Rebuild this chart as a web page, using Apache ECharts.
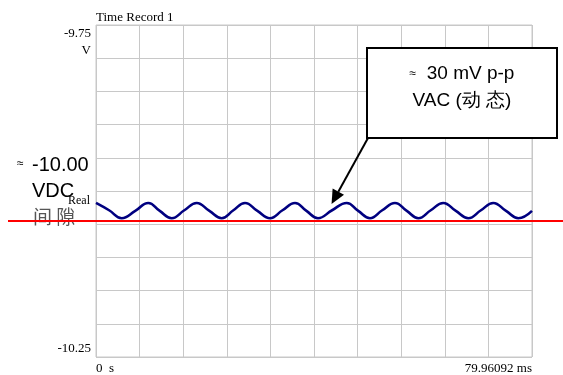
<!DOCTYPE html>
<html>
<head>
<meta charset="utf-8">
<script src="https://cdn.jsdelivr.net/npm/echarts@6/dist/echarts.min.js"></script>
<style>
html,body{margin:0;padding:0;background:#fff;}
#chart{width:563px;height:375px;}
</style>
</head>
<body>
<div id="chart"></div>
<script>
// ---- data ----
var TITLE = 'Time Record 1';
var X_MIN = 0, X_MAX = 79.96092;           // ms
var Y_MIN = -10.25, Y_MAX = -9.75;         // V
var Y_INTERVAL = 0.05;
var X_LABEL_MIN = '0  s', X_LABEL_MAX = '79.96092 ms';
var Y_LABEL_MAX = '-9.75\nV', Y_LABEL_MIN = '-10.25';
var Y_NAME = 'Real';

// time (ms) of sampled points of the trace
var times = [0, 2.4, 4.71, 7.2, 9.59, 11.7, 13.88, 16.2, 18.47, 20.8, 23.05, 25.2, 27.33, 29.6, 31.91,
             34.2, 36.5, 38.6, 40.71, 43.3, 45.98, 48.1, 50.25, 52.5, 54.83, 57.0, 59.11, 61.4, 63.69,
             66.0, 68.28, 70.6, 72.86, 75.2, 77.45, 79.96];
// voltage (V) at those times
var volts = [-10.018, -10.029, -10.041, -10.030, -10.018, -10.030, -10.041, -10.029, -10.018, -10.030, -10.041,
             -10.029, -10.018, -10.030, -10.041, -10.029, -10.018, -10.030, -10.041, -10.029, -10.018,
             -10.030, -10.041, -10.029, -10.018, -10.030, -10.041, -10.029, -10.018, -10.030, -10.041,
             -10.029, -10.018, -10.030, -10.041, -10.030];

// annotations
var DC_LEVEL = -10.045;                     // red reference line
var ARROW_TIP = [43.2, -10.0195];           // point the callout arrow targets
var NOTE_DC = ['≈', '-10.00', 'VDC', '间 隙'];
var NOTE_AC_APPROX = '≈';
var NOTE_AC = ['30 mV p-p', 'VAC (动 态)'];

var serif = '"Liberation Serif","DejaVu Serif",serif';
var sans = '"Liberation Sans",Arial,sans-serif';

var chart = echarts.init(document.getElementById('chart'));
var pts = times.map(function (t, i) { return [t, volts[i]]; });

function near(a, b) { return Math.abs(a - b) < 1e-6; }

chart.setOption({
  animation: false,
  backgroundColor: '#fff',
  grid: { left: 96, right: 31, top: 25, bottom: 16, show: true, borderColor: '#c8c8c8', borderWidth: 1 },
  xAxis: {
    type: 'value', min: X_MIN, max: X_MAX, interval: (X_MAX - X_MIN) / 10,
    axisLine: { show: false }, axisTick: { show: false },
    splitLine: { show: true, lineStyle: { color: '#c8c8c8', width: 1 } },
    axisLabel: {
      show: true, margin: 5, color: '#000', fontFamily: serif, fontSize: 13,
      alignMinLabel: 'left', alignMaxLabel: 'right',
      formatter: function (v) {
        if (near(v, X_MIN)) return X_LABEL_MIN;
        if (near(v, X_MAX)) return X_LABEL_MAX;
        return '';
      }
    }
  },
  yAxis: {
    type: 'value', min: Y_MIN, max: Y_MAX, interval: Y_INTERVAL,
    axisLine: { show: false }, axisTick: { show: false },
    splitLine: { show: true, lineStyle: { color: '#c8c8c8', width: 1 } },
    axisLabel: {
      show: true, margin: 5, color: '#000', fontFamily: serif, fontSize: 13, lineHeight: 17,
      align: 'right',
      verticalAlignMaxLabel: 'top', verticalAlignMinLabel: 'bottom',
      formatter: function (v) {
        if (near(v, Y_MAX)) return Y_LABEL_MAX;
        if (near(v, Y_MIN)) return Y_LABEL_MIN;
        return '';
      }
    }
  },
  series: [{
    type: 'line', data: pts, showSymbol: false, smooth: 0.45,
    lineStyle: { color: '#000080', width: 2.6 }, z: 5
  }]
});

function drawAnnotations() {
  var yDC = chart.convertToPixel({ gridIndex: 0 }, [X_MIN, DC_LEVEL])[1];
  var tip = chart.convertToPixel({ gridIndex: 0 }, ARROW_TIP);
  var box = { x: 367, y: 48, w: 190, h: 90 };
  var sx = box.x + 1, sy = box.y + box.h;
  var dx = tip[0] - sx, dy = tip[1] - sy, len = Math.sqrt(dx * dx + dy * dy);
  var ux = dx / len, uy = dy / len, hl = 14, hw = 6.5;
  var bx = tip[0] - ux * hl, by = tip[1] - uy * hl;
  chart.setOption({
    graphic: [
      { type: 'text', left: 96, top: 11, style: { text: TITLE, font: '13px ' + serif, fill: '#000' } },
      { type: 'text', left: 68, top: 195, z: 20, style: { text: Y_NAME, font: '12px ' + serif, fill: '#000' } },
      { type: 'line', z: 10, shape: { x1: 8, y1: yDC, x2: 563, y2: yDC }, style: { stroke: '#ff0000', lineWidth: 2 } },
      { type: 'text', left: 17, top: 158, style: { text: NOTE_DC[0], font: '12px ' + sans, fill: '#000' } },
      { type: 'text', left: 32, top: 155, style: { text: NOTE_DC[1], font: '20px ' + sans, fill: '#000' } },
      { type: 'text', left: 32, top: 181, style: { text: NOTE_DC[2], font: '20px ' + sans, fill: '#000' } },
      { type: 'text', left: 33, top: 207, z: 3, style: { text: NOTE_DC[3], font: '19px "Noto Sans CJK SC",sans-serif', fill: '#555' } },
      { type: 'rect', z: 30, shape: { x: box.x, y: box.y, width: box.w, height: box.h },
        style: { fill: '#fff', stroke: '#000', lineWidth: 2 } },
      { type: 'text', z: 31, style: { x: box.x + box.w / 2, y: 74,
        text: '{s|' + NOTE_AC_APPROX + '}\u00a0\u00a0' + NOTE_AC[0], font: '19px ' + sans, fill: '#000',
        align: 'center', verticalAlign: 'middle',
        rich: { s: { fontSize: 12, fontFamily: sans, fill: '#000' } } } },
      { type: 'text', z: 31, style: { x: box.x + box.w / 2, y: 101, text: NOTE_AC[1], font: '19px ' + sans, fill: '#000',
        align: 'center', verticalAlign: 'middle' } },
      { type: 'line', z: 30, shape: { x1: sx, y1: sy, x2: bx, y2: by }, style: { stroke: '#000', lineWidth: 2 } },
      { type: 'polygon', z: 30, shape: { points: [[tip[0], tip[1]], [bx - uy * hw, by + ux * hw], [bx + uy * hw, by - ux * hw]] },
        style: { fill: '#000' } }
    ]
  });
}
drawAnnotations();
</script>
</body>
</html>
